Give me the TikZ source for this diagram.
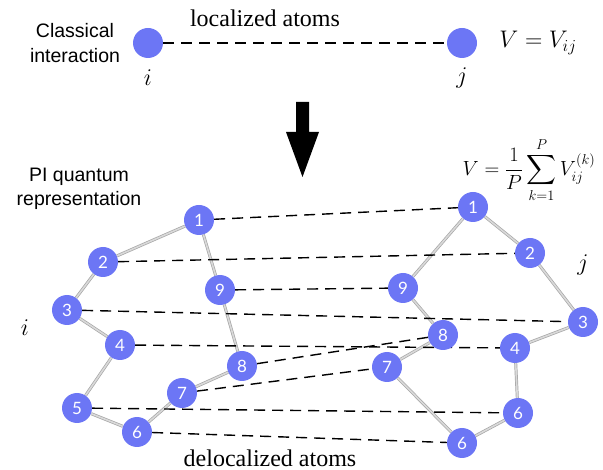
\RequirePackage{fix-cm}
\documentclass[tikz,border=0pt]{standalone}
\usepackage{amsmath}
\usepackage[no-math]{fontspec}
\setmainfont{Liberation Serif}
\newfontfamily\sansf{Liberation Sans}
\newfontfamily\numf{Lato}
\usetikzlibrary{backgrounds}
\definecolor{atomblue}{RGB}{108,118,245}
\begin{document}
\begin{tikzpicture}[x=1pt,y=-1pt,
  atom/.style={circle,fill=atomblue,minimum size=30pt,inner sep=0pt,text=white,
    font=\numf\fontsize{17}{17}\selectfont},
  bond/.style={draw=gray!70,double=gray!30,double distance=1.6pt,line width=0.7pt},
  link/.style={black,line width=1.4pt,dash pattern=on 11pt off 7pt},
  lbl/.style={inner sep=0pt,font=\fontsize{24}{28}\selectfont},
  sans/.style={inner sep=0pt,align=center,font=\sansf\fontsize{19.5}{24.5}\selectfont}]
\useasboundingbox (0,0) rectangle (603,470);
% top classical
\node[sans] (cl) at (75,43) {Classical\\interaction};
\node[atom] (ti) at (148,43) {};
\node[atom] (tj) at (462,43) {};
\draw[link] (ti) -- (tj);
\node[lbl] (loc) at (265,18) {localized atoms};
\node[lbl] (il) at (148,78) {$i$};
\node[lbl] (jl) at (462,78) {$j$};
\node[lbl] (vtop) at (538,43) {$V=V_{ij}$};
% arrow
\fill[black] (296,102) -- (309,102) -- (309,132) -- (319,132) -- (302.5,177) -- (286,132) -- (296,132) -- cycle;
% labels
\node[sans] (pi) at (79,189) {PI quantum\\representation};
\node[inner sep=0pt,font=\fontsize{20.5}{24}\selectfont] (vsum) at (529,170) {$\displaystyle V=\frac{1}{P}\sum_{k=1}^{P}V_{ij}^{(k)}$};
\node[lbl] (jr) at (583,265) {$j$};
\node[lbl] (ilf) at (25,328) {$i$};
\node[lbl] (del) at (270,458) {delocalized atoms};
% left ring
\node[atom] (a1) at (199,220) {1};
\node[atom] (a2) at (103,262) {2};
\node[atom] (a3) at (67,310) {3};
\node[atom] (a9) at (220,290) {9};
\node[atom] (a4) at (120,345) {4};
\node[atom] (a8) at (242,366) {8};
\node[atom] (a7) at (182,393) {7};
\node[atom] (a5) at (77,408) {5};
\node[atom] (a6) at (137,432) {6};
% right ring
\node[atom] (b1) at (473,207) {1};
\node[atom] (b2) at (530,253) {2};
\node[atom] (b9) at (403,288) {9};
\node[atom] (b3) at (583,322) {3};
\node[atom] (b8) at (443,335) {8};
\node[atom] (b4) at (515,348) {4};
\node[atom] (b7) at (387,367) {7};
\node[atom] (b5) at (518,413) {6};
\node[atom] (b6) at (462,443) {6};
\begin{scope}[on background layer]
\foreach \p/\q in {1/2,2/3,3/4,4/5,5/6,6/7,7/8,8/9,9/1}{
  \draw[bond] (a\p) -- (a\q);
  \draw[bond] (b\p) -- (b\q);
}
\foreach \p in {1,2,3,4,5,6,7,8,9}{
  \draw[link] (a\p) -- (b\p);
}
\end{scope}
\end{tikzpicture}
\end{document}
